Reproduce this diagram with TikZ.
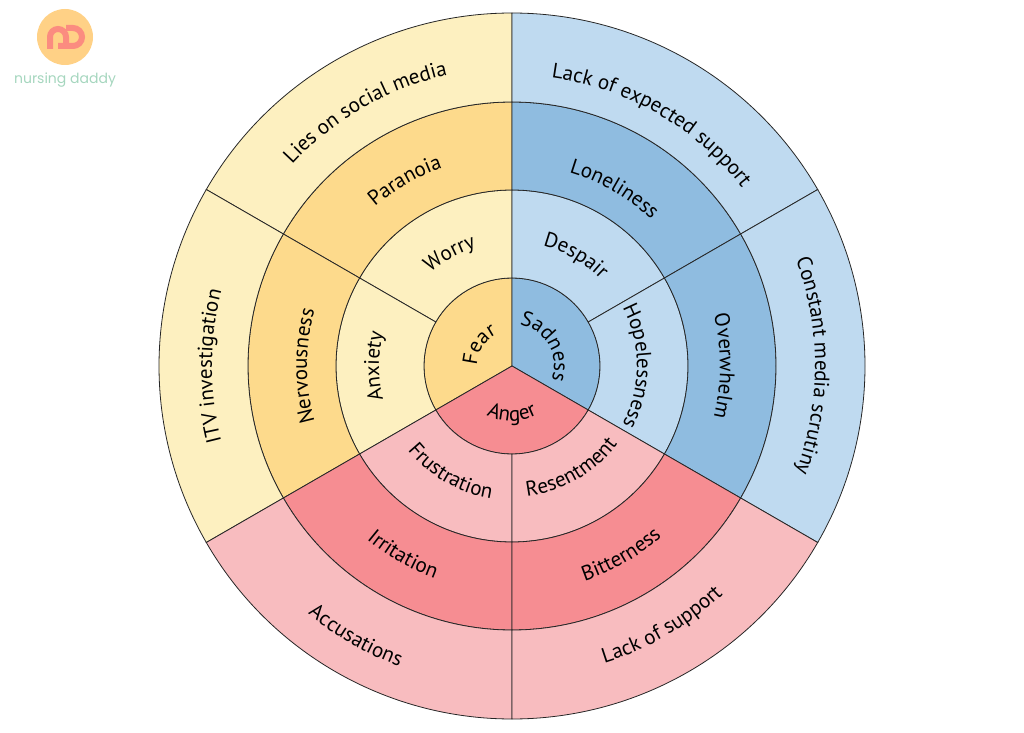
\documentclass[tikz,border=0pt]{standalone}
\usepackage{fontspec}
\setmainfont{PT Sans}
\newfontfamily\logofont{Poppins}
\usetikzlibrary{decorations.text}
\definecolor{yellowlight}{HTML}{FDF0C0}
\definecolor{yellowdark}{HTML}{FDDA8C}
\definecolor{bluelight}{HTML}{BFDAF0}
\definecolor{bluedark}{HTML}{8FBCE0}
\definecolor{redlight}{HTML}{F8BCBF}
\definecolor{reddark}{HTML}{F68D92}
\definecolor{logoorange}{HTML}{FFD186}
\definecolor{logocoral}{HTML}{FB8C80}
\definecolor{logomint}{HTML}{A5D6BE}
\newcommand{\labelfont}{\fontsize{21}{25}\selectfont}
% sector: inner radius, outer radius, start angle, end angle, colour
\newcommand{\sector}[5]{\draw[wheel,fill=#5] (#3:#1) arc[start angle=#3,end angle=#4,radius=#1] -- (#4:#2) arc[start angle=#4,end angle=#3,radius=#2] -- cycle;}
% labels: baseline radius, middle angle, text
\newcommand{\cwlabel}[3]{\path[shift={(512,366)},postaction={decorate},decoration={text along path,text align=center,text={|\labelfont|#3}}] (#2+85:#1) arc[start angle=#2+85,end angle=#2-85,radius=#1];}
\newcommand{\ccwlabel}[3]{\path[shift={(512,366)},postaction={decorate},decoration={text along path,text align=center,text={|\labelfont|#3}}] (#2-85:#1) arc[start angle=#2-85,end angle=#2+85,radius=#1];}
\begin{document}
\begin{tikzpicture}[x=1pt,y=1pt,
  wheel/.style={draw=black!85,line width=.8pt},
  logostroke/.style={logocoral,line width=6pt,line cap=butt}]
\useasboundingbox (0,0) rectangle (1024,732);
\begin{scope}[shift={(512,366)}]
\sector{0}{88}{90}{210}{yellowdark}
\sector{0}{88}{-30}{90}{bluedark}
\sector{0}{88}{210}{330}{reddark}
\foreach \a/\b/\col in {90/150/yellowlight,150/210/yellowlight,30/90/bluelight,-30/30/bluelight,210/270/redlight,270/330/redlight}{
  \sector{88}{176}{\a}{\b}{\col}
}
\foreach \a/\b/\col in {90/150/yellowdark,150/210/yellowdark,30/90/bluedark,-30/30/bluedark,210/270/reddark,270/330/reddark}{
  \sector{176}{264}{\a}{\b}{\col}
}
\foreach \a/\b/\col in {90/150/yellowlight,150/210/yellowlight,30/90/bluelight,-30/30/bluelight,210/270/redlight,270/330/redlight}{
  \sector{264}{353}{\a}{\b}{\col}
}
\end{scope}
\cwlabel{35}{147}{Fear}
\cwlabel{42}{30}{Sadness}
\ccwlabel{55}{270}{Anger}
\cwlabel{124}{119}{Worry}
\cwlabel{133}{180}{Anxiety}
\cwlabel{124}{60}{Despair}
\cwlabel{125}{0}{Hopelessness}
\ccwlabel{134}{240}{Frustration}
\ccwlabel{131}{300}{Resentment}
\cwlabel{210}{120}{Paranoia}
\cwlabel{205}{180}{Nervousness}
\cwlabel{202}{60}{Loneliness}
\cwlabel{208}{0}{Overwhelm}
\ccwlabel{226}{240}{Irritation}
\ccwlabel{227}{300}{Bitterness}
\cwlabel{298}{120}{Lies on social media}
\cwlabel{300}{180}{ITV investigation}
\cwlabel{291}{60}{Lack of expected support}
\cwlabel{303}{0}{Constant media scrutiny}
\ccwlabel{321}{240}{Accusations}
\ccwlabel{311}{300}{Lack of support}
% logo
\fill[logoorange] (65,695) circle (28);
\draw[logostroke] (50,683) -- (50,695) arc[start angle=180,end angle=0,radius=8] -- (66,683);
\draw[logostroke] (66,704) -- (73,704) arc[start angle=90,end angle=-90,radius=9] -- (58,686);
\node[logomint,font=\logofont\fontsize{14}{16}\selectfont,inner sep=0pt] (logotext) at (65,652) {nursing daddy};
\end{tikzpicture}
\end{document}
